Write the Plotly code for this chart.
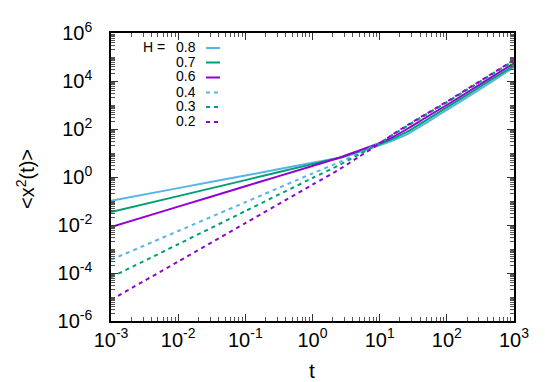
import plotly.graph_objects as go

# time points (t)
t = [1e-3, 1e-2, 1e-1, 1.0, 2.512, 5.012, 10.0, 15.85, 26.3, 50.1, 100.0, 199.5, 398.1, 1000.0]

# <x^2(t)>
h08 = [0.102, 0.344, 1.15, 3.9, 6.3, 11.2, 20.9, 33.9, 63.1, 186, 631, 2090, 7080, 3.7e4]
h07 = [0.0347, 0.160, 0.741, 3.43, 6.3, 12.0, 23.4, 39.8, 79.4, 240, 794, 2630, 8910, 4.37e4]
h06 = [0.0083, 0.0585, 0.411, 2.88, 6.3, 12.9, 26.3, 46.8, 105, 316, 1000, 3310, 1.12e4, 5.5e4]
h04 = [3.55e-4, 5.6e-3, 0.089, 1.41, 4.17, 10.0, 26.3, 57.5, 135, 398, 1260, 4170, 1.38e4, 6.9e4]
h03 = [6.6e-5, 1.58e-3, 0.038, 0.91, 3.16, 8.9, 25.7, 58.9, 141, 417, 1320, 4370, 1.45e4, 7.2e4]
h02 = [7.6e-6, 3.0e-4, 0.012, 0.48, 2.09, 7.2, 25.1, 60.3, 148, 437, 1380, 4570, 1.51e4, 7.5e4]

labels = ["0.8", "0.7", "0.6", "0.4", "0.3", "0.2"]
series = [h08, h07, h06, h04, h03, h02]
colors = ["#56b4e9", "#009e73", "#9400d3", "#56b4e9", "#009e73", "#9400d3"]
dashes = ["solid", "solid", "solid", "4px,4px", "4px,4px", "4px,4px"]

xtick_exp = [-3, -2, -1, 0, 1, 2, 3]
ytick_exp = [-6, -4, -2, 0, 2, 4, 6]

def lab(e):
    return "10<sup>%s</sup>" % (str(e) if e >= 0 else "-" + str(-e))

fig = go.Figure()
for y, c, d, name in zip(series, colors, dashes, labels):
    fig.add_trace(go.Scatter(x=t, y=y, mode="lines", name=name,
                             line=dict(color=c, width=2, dash=d, shape="spline", smoothing=0.6),
                             showlegend=False))

W, H = 545, 382
L, R, T, B = 103, 39, 25, 69
pw, ph = W - L - R, H - T - B

def px(x):
    return (x - L) / pw

def py(y):
    return (H - B - y) / ph

# manual gnuplot-style legend (text then sample)
rows = [39, 53.5, 68.5, 83.5, 98, 113]
ann = [dict(text="H =", x=px(158), y=py(rows[0]), xref="paper", yref="paper",
            xanchor="right", yanchor="middle", showarrow=False, borderpad=0, height=14,
            font=dict(size=14, color="black"))]
shapes = []
for r, name, c, d in zip(rows, labels, colors, dashes):
    ann.append(dict(text=name, x=px(189), y=py(r), xref="paper", yref="paper",
                    xanchor="right", yanchor="middle", showarrow=False, borderpad=0, height=14,
                    font=dict(size=14, color="black")))
    shapes.append(dict(type="line", xref="paper", yref="paper",
                       x0=px(198), x1=px(212), y0=py(r + 1), y1=py(r + 1),
                       line=dict(color=c, width=2, dash=d)))

ann.append(dict(text="<x<sup>2</sup>(t)>", x=px(17), y=py(171), xref="paper", yref="paper",
                xanchor="center", yanchor="middle", textangle=-90, showarrow=False,
                font=dict(size=20, color="black")))
ann.append(dict(text="t", x=px(304), y=py(362), xref="paper", yref="paper",
                xanchor="center", yanchor="middle", showarrow=False, borderpad=0,
                font=dict(size=21, color="black")))

def minors(lo, hi, majors):
    out = []
    for e in range(lo, hi):
        for k in range(1, 10):
            v = k * 10.0 ** e
            if not (k == 1 and e in majors):
                out.append(v)
    return out

fig.update_layout(
    width=W, height=H,
    margin=dict(l=L, r=R, t=T, b=B),
    paper_bgcolor="white", plot_bgcolor="white",
    font=dict(family="Liberation Sans, Arial, sans-serif", size=20, color="black"),
    annotations=ann, shapes=shapes, showlegend=False,
)
fig.update_xaxes(type="log", range=[-3, 3], tickmode="array",
                 tickvals=[10.0 ** e for e in xtick_exp],
                 ticktext=[lab(e) for e in xtick_exp],
                 ticks="inside", ticklen=7, tickwidth=1, tickcolor="#333",
                 showline=True, linecolor="black", linewidth=1.5, mirror="allticks",
                 showgrid=False, zeroline=False, ticklabelstandoff=0,
                 minor=dict(tickmode="array", tickvals=minors(-3, 3, xtick_exp),
                            ticks="inside", ticklen=4, tickcolor="#555", showgrid=False))
fig.update_yaxes(type="log", range=[-6, 6], tickmode="array",
                 tickvals=[10.0 ** e for e in ytick_exp],
                 ticktext=[lab(e) for e in ytick_exp],
                 ticks="inside", ticklen=7, tickwidth=1, tickcolor="#333",
                 showline=True, linecolor="black", linewidth=1.5, mirror="allticks",
                 showgrid=False, zeroline=False, ticklabelstandoff=13,
                 minor=dict(tickmode="array", tickvals=minors(-6, 6, ytick_exp),
                            ticks="inside", ticklen=4, tickcolor="#555", showgrid=False))

fig.write_html("out.html")
